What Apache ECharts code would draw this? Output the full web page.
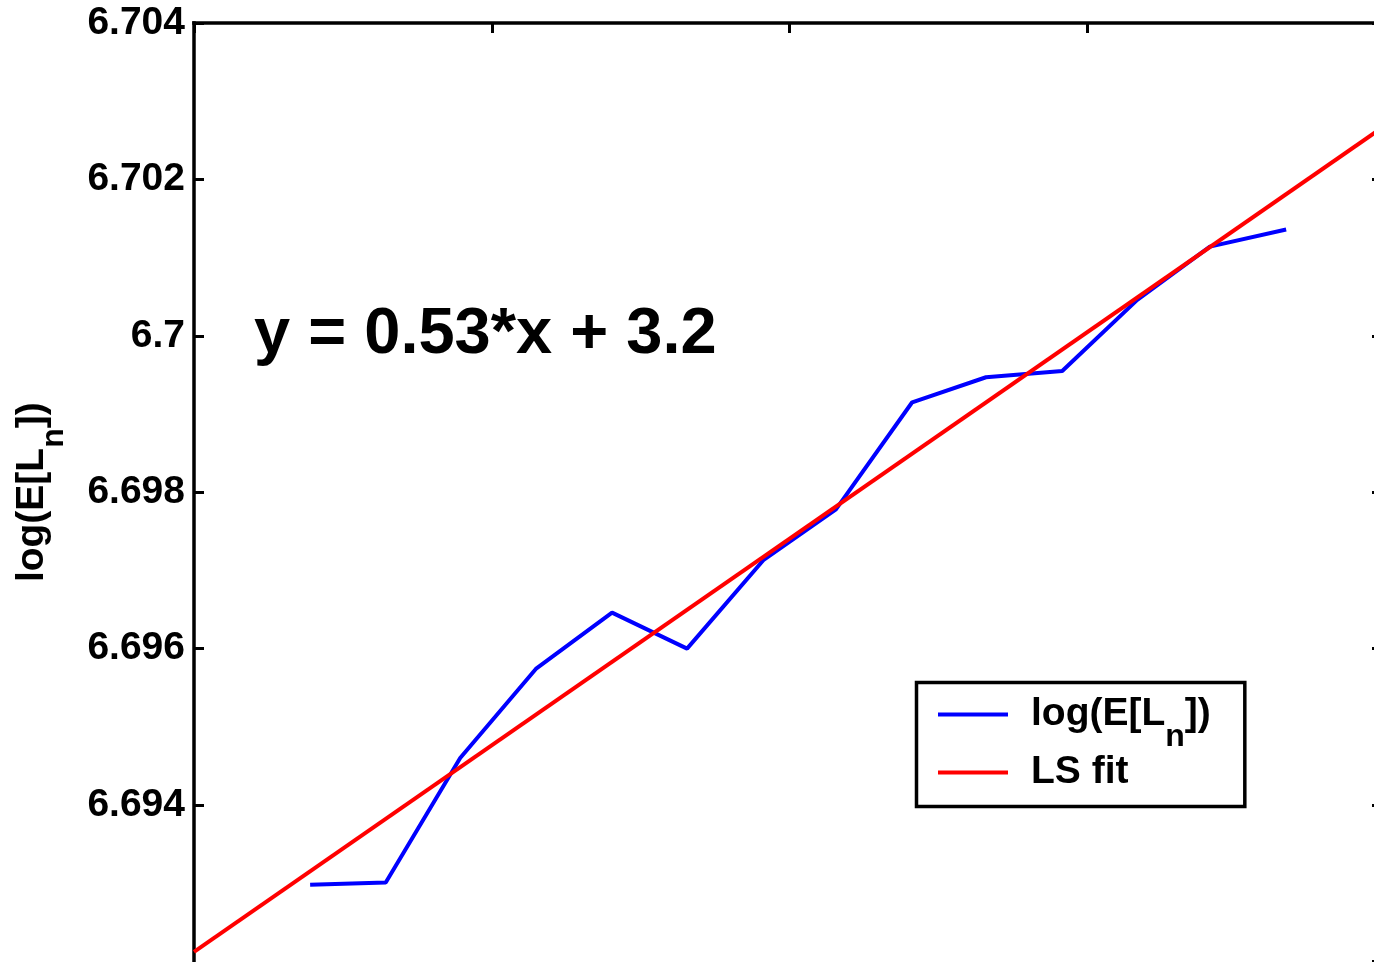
<!DOCTYPE html>
<html>
<head>
<meta charset="utf-8">
<title>log(E[L_n]) with least-squares fit</title>
<script src="https://cdn.jsdelivr.net/npm/echarts@6/dist/echarts.min.js"></script>
<style>
  html, body { margin: 0; padding: 0; background: #ffffff; }
  #chart { width: 1374px; height: 962px; }
</style>
</head>
<body>
<div id="chart"></div>
<script>
// Measured series: x positions and log(E[L_n]) values
const xValues = [6.60195, 6.60322, 6.60447, 6.60574, 6.60702, 6.60828, 6.60956,
                 6.61078, 6.61206, 6.61330, 6.61458, 6.61584, 6.61706, 6.61834];
const logELn  = [6.69298, 6.69301, 6.69460, 6.69574, 6.69646, 6.69600, 6.69713,
                 6.69778, 6.69915, 6.69947, 6.69955, 6.70046, 6.70114, 6.70136];

// Axis ranges and tick spacing
const xRange = [6.600, 6.620];
const xStep = 0.005;
const yRange = [6.692, 6.704];
const yStep = 0.002;

// Series names shown in the legend
const seriesNames = ['log(E[L_n])', 'LS fit'];

// Least-squares line through the measured points
function leastSquares(xs, ys) {
  const n = xs.length;
  let sx = 0, sy = 0;
  for (let i = 0; i < n; i++) { sx += xs[i]; sy += ys[i]; }
  const mx = sx / n, my = sy / n;
  let sxy = 0, sxx = 0;
  for (let i = 0; i < n; i++) {
    sxy += (xs[i] - mx) * (ys[i] - my);
    sxx += (xs[i] - mx) * (xs[i] - mx);
  }
  const slope = sxy / sxx;
  return { slope: slope, intercept: my - slope * mx };
}
const fit = leastSquares(xValues, logELn);
const fitLine = xRange.map(x => [x, fit.slope * x + fit.intercept]);
const dataLine = xValues.map((x, i) => [x, logELn[i]]);
const equationText = 'y = ' + fit.slope.toFixed(2) + '*x + ' + fit.intercept.toFixed(1);

const FONT = '"Liberation Sans", Arial, Helvetica, sans-serif';
const base = { fontFamily: FONT, fontWeight: 'bold', color: '#000000' };
// rich styles: a = normal text, ap = normal text with a leading gap,
// s = subscript, dropped below the baseline through its top padding
const rich = {
  a:  Object.assign({}, base, { fontSize: 39, lineHeight: 46, verticalAlign: 'middle' }),
  ap: Object.assign({}, base, { fontSize: 39, lineHeight: 46, verticalAlign: 'middle', padding: [0, 0, 0, 18] }),
  s:  Object.assign({}, base, { fontSize: 32, lineHeight: 46, verticalAlign: 'top', padding: [29.4, 0, 0, 0] })
};
// the single-line "LS fit" entry uses a slightly shorter line box
const richLegend = Object.assign({}, rich, {
  ap2: Object.assign({}, base, { fontSize: 39, lineHeight: 41, verticalAlign: 'middle', padding: [0, 0, 0, 18] })
});

const AXIS_W = 3.5;
const lineAxis = { show: true, lineStyle: { color: '#000000', width: AXIS_W, cap: 'square' } };
const tickStyle = { color: '#000000', width: 3 };
const LINE_W = 4;

const chart = echarts.init(document.getElementById('chart'), null, { renderer: 'canvas' });

chart.setOption({
  animation: false,
  backgroundColor: '#ffffff',
  grid: {
    left: 194, top: 23, width: 1191, height: 938.4,
    containLabel: false, outerBoundsMode: 'none'
  },
  xAxis: [
    {
      type: 'value', position: 'bottom', min: xRange[0], max: xRange[1], interval: xStep,
      axisLine: { show: false }, axisTick: { show: false }, axisLabel: { show: false },
      splitLine: { show: false }
    },
    {
      type: 'value', position: 'top', min: xRange[0], max: xRange[1], interval: xStep,
      axisLine: lineAxis,
      axisTick: { show: true, inside: true, length: 10, lineStyle: tickStyle },
      axisLabel: { show: false }, splitLine: { show: false }
    }
  ],
  yAxis: [
    {
      type: 'value', position: 'left', min: yRange[0], max: yRange[1], interval: yStep,
      axisLine: lineAxis,
      axisTick: { show: true, inside: true, length: 10, lineStyle: tickStyle },
      axisLabel: {
        show: true, margin: 9, showMinLabel: false, showMaxLabel: true,
        fontFamily: FONT, fontWeight: 'bold', fontSize: 39, color: '#000000',
        formatter: v => String(Number(v.toFixed(3)))
      },
      splitLine: { show: false },
      name: '{a|log(E[L}{s|n}{a|])}',
      nameLocation: 'middle', nameRotate: 90, nameGap: 139,
      nameTextStyle: { rich: rich }
    },
    {
      type: 'value', position: 'right', min: yRange[0], max: yRange[1], interval: yStep,
      axisLine: lineAxis,
      axisTick: { show: true, inside: true, length: 13, lineStyle: tickStyle },
      axisLabel: { show: false }, splitLine: { show: false }
    }
  ],
  legend: {
    orient: 'vertical',
    left: 916.5, top: 682.5,
    padding: [9, 34, 14.5, 19.5],
    itemGap: 0, itemWidth: 70, itemHeight: 14,
    backgroundColor: '#ffffff',
    borderColor: '#000000', borderWidth: 3.5, borderRadius: 0,
    selectedMode: false,
    lineStyle: { width: LINE_W },
    itemStyle: { opacity: 0, borderWidth: 0 },
    data: seriesNames,
    textStyle: { color: '#000000', rich: richLegend },
    formatter: name => name === seriesNames[0] ? '{ap|log(E[L}{s|n}{a|])}' : '{ap2|LS fit}'
  },
  graphic: [
    {
      type: 'text', x: 254, y: 335, silent: true,
      style: {
        text: equationText,
        font: 'bold 65px ' + FONT,
        fill: '#000000',
        textAlign: 'left',
        verticalAlign: 'middle', textVerticalAlign: 'middle'
      }
    }
  ],
  series: [
    {
      name: seriesNames[0], type: 'line', xAxisIndex: 0, yAxisIndex: 0,
      data: dataLine, symbol: 'none', showSymbol: false,
      lineStyle: { color: '#0000ff', width: LINE_W }, itemStyle: { color: '#0000ff' },
      z: 2
    },
    {
      name: seriesNames[1], type: 'line', xAxisIndex: 0, yAxisIndex: 0,
      data: fitLine, symbol: 'none', showSymbol: false,
      lineStyle: { color: '#ff0000', width: LINE_W }, itemStyle: { color: '#ff0000' },
      z: 3
    }
  ]
});
</script>
</body>
</html>
